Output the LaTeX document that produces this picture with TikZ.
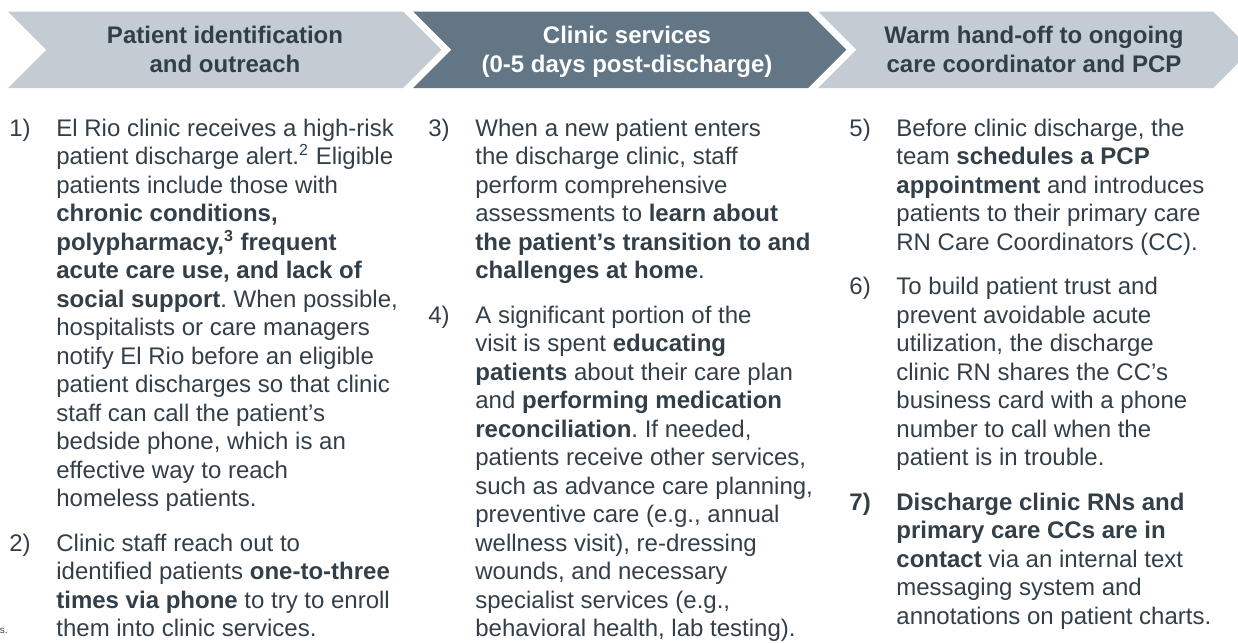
\documentclass[tikz,border=0pt]{standalone}
\usepackage{fontspec}
\setmainfont{Liberation Sans}
\definecolor{phaselight}{RGB}{194,204,210}
\definecolor{phasedark}{RGB}{98,118,133}
\definecolor{ink}{RGB}{51,63,72}
\newcommand\numitem[2]{\begin{tabular}[t]{@{}p{23.5pt}@{}p{180pt}@{}}#1&#2\end{tabular}}
\newcommand\headlines[1]{\begin{tabular}[t]{@{}c@{}}#1\end{tabular}}
\tikzset{stephead/.style={anchor=base,inner sep=0pt,
   font=\fontsize{12}{14.5}\selectfont\bfseries},
 stepitem/.style={anchor=base west,inner sep=0pt,text=ink,
   font=\fontsize{12}{14.25}\selectfont\frenchspacing},
 fnote/.style={anchor=base east,inner sep=0pt,text=ink,font=\fontsize{5}{6}\selectfont}}

\begin{document}
\begin{tikzpicture}[x=.5pt,y=.5pt]
\useasboundingbox (0,0) rectangle (1238,-643);
\clip (0,0) rectangle (1238,-643);
\fill[phaselight] (8,-11.5) -- ++(395,0) -- ++(38.25,-38.25) -- ++(-38.25,-38.25) -- ++(-395,0) -- ++(38.25,38.25) -- cycle;
\fill[phasedark] (413,-11.5) -- ++(395,0) -- ++(38.25,-38.25) -- ++(-38.25,-38.25) -- ++(-395,0) -- ++(38.25,38.25) -- cycle;
\fill[phaselight] (818,-11.5) -- ++(395,0) -- ++(38.25,-38.25) -- ++(-38.25,-38.25) -- ++(-395,0) -- ++(38.25,38.25) -- cycle;
\node[stephead,text=ink] (h1) at (225,-43) {\headlines{Patient identification\\and outreach}};
\node[stephead,text=white] (h2) at (627,-43) {\headlines{Clinic services\\(0-5 days post-discharge)}};
\node[stephead,text=ink] (h3) at (1034,-43) {\headlines{Warm hand-off to ongoing\\care coordinator and PCP}};

\node[stepitem] (s1) at (9,-136) {\numitem{1)}{El Rio clinic receives a high-risk\newline
 patient discharge alert.\textsuperscript{2} Eligible\newline
 patients include those with\newline
 \textbf{chronic conditions,\newline
 polypharmacy,\textsuperscript{3} frequent\newline
 acute care use, and lack of\newline
 social support}. When possible,\newline
 hospitalists or care managers\newline
 notify El Rio before an eligible\newline
 patient discharges so that clinic\newline
 staff can call the patient’s\newline
 bedside phone, which is an\newline
 effective way to reach\newline
 homeless patients.}};
\node[stepitem] (s2) at (9,-551) {\numitem{2)}{Clinic staff reach out to\newline
 identified patients \textbf{one-to-three\newline
 times via phone} to try to enroll\newline
 them into clinic services.}};

\node[stepitem] (s3) at (428,-136) {\numitem{3)}{When a new patient enters\newline
 the discharge clinic, staff\newline
 perform comprehensive\newline
 assessments to \textbf{learn about\newline
 the patient’s transition to and\newline
 challenges at home}.}};
\node[stepitem] (s4) at (428,-323) {\numitem{4)}{A significant portion of the\newline
 visit is spent \textbf{educating\newline
 patients} about their care plan\newline
 and \textbf{performing medication\newline
 reconciliation}. If needed,\newline
 patients receive other services,\newline
 such as advance care planning,\newline
 preventive care (e.g., annual\newline
 wellness visit), re-dressing\newline
 wounds, and necessary\newline
 specialist services (e.g.,\newline
 behavioral health, lab testing).}};

\node[stepitem] (s5) at (849,-136) {\numitem{5)}{Before clinic discharge, the\newline
 team \textbf{schedules a PCP\newline
 appointment} and introduces\newline
 patients to their primary care\newline
 RN Care Coordinators (CC).}};
\node[stepitem] (s6) at (849,-294.5) {\numitem{6)}{To build patient trust and\newline
 prevent avoidable acute\newline
 utilization, the discharge\newline
 clinic RN shares the CC’s\newline
 business card with a phone\newline
 number to call when the\newline
 patient is in trouble.}};
\node[stepitem] (s7) at (849,-510) {\numitem{\textbf{7)}}{\textbf{Discharge clinic RNs and\newline
 primary care CCs are in\newline
 contact} via an internal text\newline
 messaging system and\newline
 annotations on patient charts.}};

\node[fnote] (fn) at (8,-633) {s.};
\end{tikzpicture}
\end{document}
